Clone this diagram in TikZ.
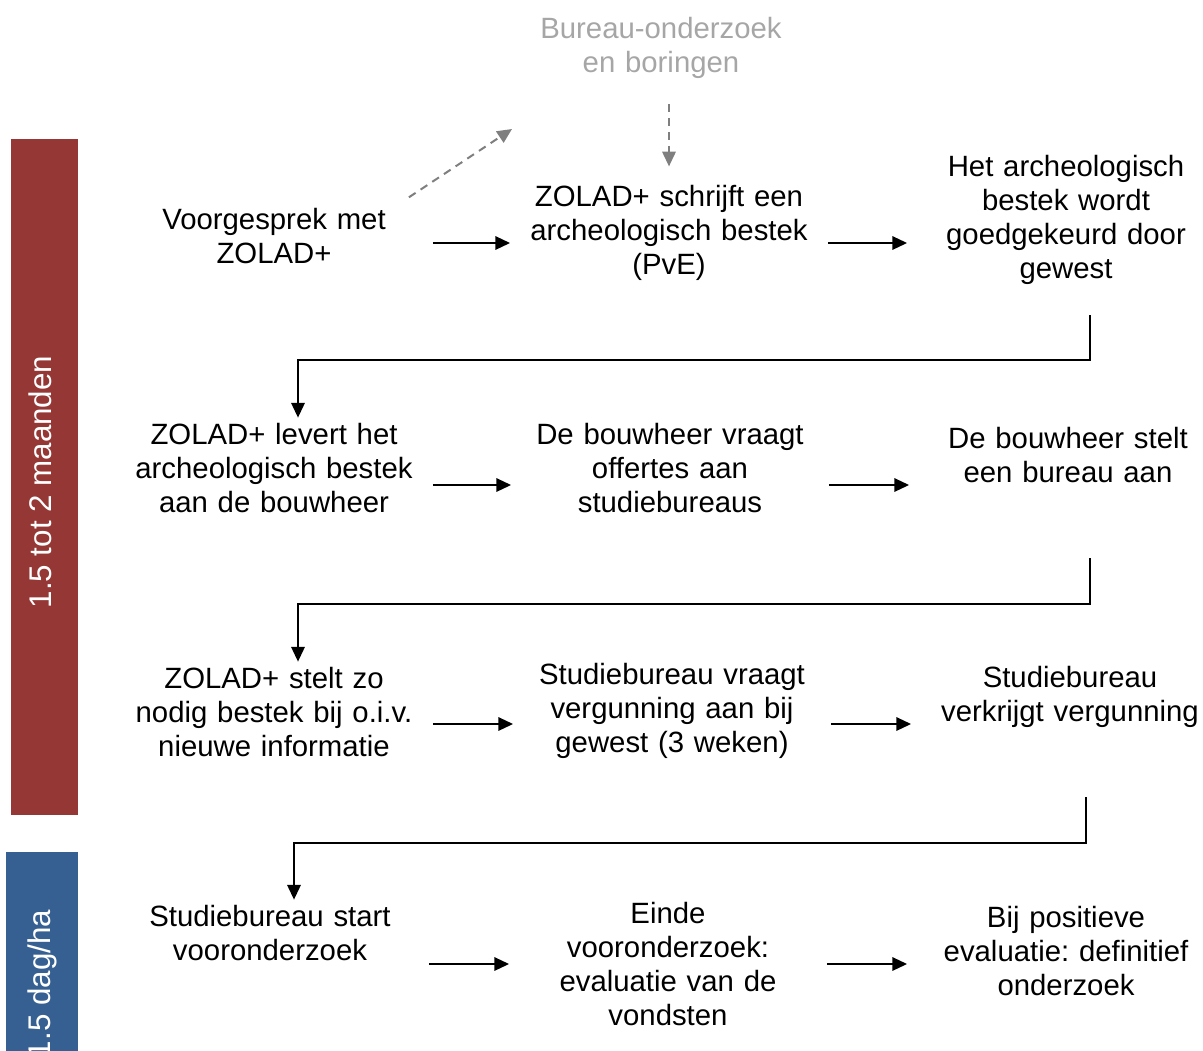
\documentclass[tikz,border=0pt]{standalone}
\usepackage{fontspec}
\setmainfont{Liberation Sans}
\usetikzlibrary{positioning,arrows.meta}
\definecolor{zRed}{RGB}{149,55,53}
\definecolor{zBlue}{RGB}{55,96,146}
\definecolor{zGrey}{RGB}{166,166,166}
\definecolor{zDash}{RGB}{127,127,127}
\frenchspacing
\tikzset{
  stap/.style={rectangle, inner sep=4pt, text width=230pt, align=center,
               font=\fontsize{22}{25.5}\selectfont},
  bron/.style={stap, text=zGrey},
  barlbl/.style={rotate=90, text=white, inner sep=0pt,
                 font=\fontsize{23.5}{26}\selectfont},
  flow/.style={-{Triangle[length=11pt,width=10pt]}, line width=1.5pt},
  flowd/.style={-{Triangle[length=11pt,width=10pt]}, draw=zDash,
                line width=1.5pt, dash pattern=on 6pt off 4.5pt},
}

\begin{document}
\begin{tikzpicture}[x=0.75pt,y=-0.75pt]
  \useasboundingbox (0,0) rectangle (1203,1050);

  %====================== PHASE BARS ======================
  \fill[zRed] (11,139) rectangle (78,815);
  \node[barlbl] (fase1) at (40,482) {1.5 tot 2 maanden};
  \fill[zBlue] (6,852) rectangle (78,1060);
  \node[barlbl] (fase2) at (42,984) {1.5 dag/ha};

  %====================== STEPS ======================
  \node[bron] (bron) at (661,48) {Bureau-onderzoek\\en boringen};

  \node[stap] (v11) at (274,236) {Voorgesprek met\\ZOLAD+};
  \node[stap] (v12) at (669,233) {ZOLAD+ schrijft een\\archeologisch bestek\\(PvE)};
  \node[stap] (v13) at (1066,220) {Het archeologisch\\bestek wordt\\goedgekeurd door\\gewest};

  \node[stap] (v21) at (274,468) {ZOLAD+ levert het\\archeologisch bestek\\aan de bouwheer};
  \node[stap] (v22) at (670,468) {De bouwheer vraagt\\offertes aan\\studiebureaus};
  \node[stap] (v23) at (1068,455) {De bouwheer stelt\\een bureau aan};

  \node[stap] (v31) at (274,712) {ZOLAD+ stelt zo\\nodig bestek bij o.i.v.\\nieuwe informatie};
  \node[stap] (v32) at (672,711) {Studiebureau vraagt\\vergunning aan bij\\gewest (3 weken)};
  \node[stap] (v33) at (1070,697) {Studiebureau\\verkrijgt vergunning};

  \node[stap] (v41) at (270,933) {Studiebureau start\\vooronderzoek};
  \node[stap] (v42) at (668,964) {Einde\\vooronderzoek:\\evaluatie van de\\vondsten};
  \node[stap] (v43) at (1066,951) {Bij positieve\\evaluatie: definitief\\onderzoek};

  %====================== ARROWS ======================
  \coordinate (r1) at (0,243);
  \coordinate (r2) at (0,485);
  \coordinate (r3) at (0,724);
  \coordinate (r4) at (0,964);

  \draw[flow] (v11.east |- r1) -- (v12.west |- r1);
  \draw[flow] (v12.east |- r1) -- (v13.west |- r1);
  \draw[flow] (v21.east |- r2) -- (v22.west |- r2);
  \draw[flow] (v22.east |- r2) -- (v23.west |- r2);
  \draw[flow] (v31.east |- r3) -- (v32.west |- r3);
  \draw[flow] (v32.east |- r3) -- (v33.west |- r3);
  \draw[flow] (v41.east |- r4) -- (v42.west |- r4);
  \draw[flow] (v42.east |- r4) -- (v43.west |- r4);

  % row to row
  \coordinate (k1) at (1090,315);
  \coordinate (k2) at (1090,558);
  \coordinate (k3) at (1086,797);
  \draw[flow] (k1) -- ++(0,45) -| ([xshift=18pt]v21.north);
  \draw[flow] (k2) -- ++(0,46) -| ([xshift=18pt]v31.north);
  \draw[flow] (k3) -- ++(0,46) -| ([xshift=18pt]v41.north);

  % desk research
  \coordinate (d1) at (512,129);
  \draw[flowd] ([shift={(-18pt,4pt)}]v11.north east) -- (d1);
  \draw[flowd, shorten <=15pt, shorten >=10pt] (bron.south -| v12.north) -- (v12.north);

\end{tikzpicture}
\end{document}
